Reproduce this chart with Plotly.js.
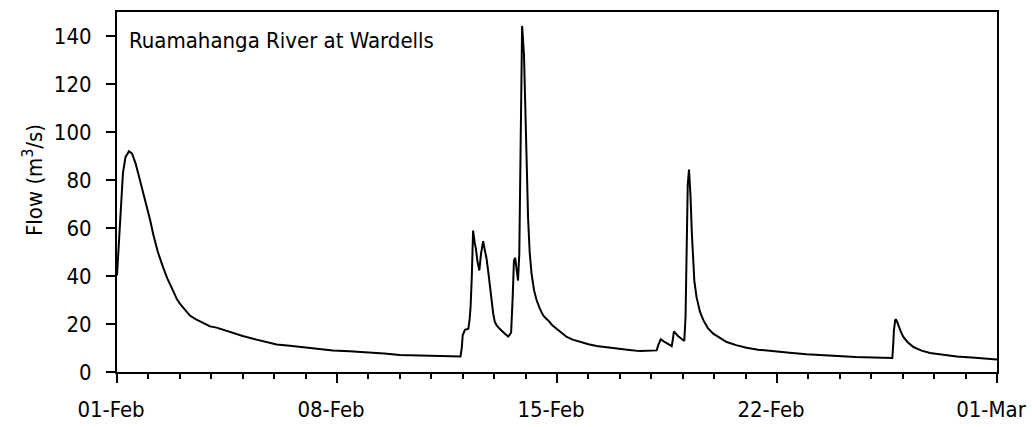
<!DOCTYPE html>
<html>
<head>
<meta charset="utf-8">
<script src="https://cdn.plot.ly/plotly-3.0.1.min.js"></script>
<style>html,body{margin:0;padding:0;background:#fff;}#chart{width:1032px;height:427px;}</style>
</head>
<body>
<div id="chart"></div>
<script>
// Days elapsed since 01-Feb 00:00
const daysSinceFeb1 = [
  0.00, 0.06, 0.12, 0.19, 0.27, 0.38, 0.48, 0.60, 0.70, 0.79, 0.95, 1.05, 1.16, 1.30, 1.47, 1.60, 1.78, 1.90, 2.00, 2.15,
  2.32, 2.50, 2.64, 2.80, 2.96, 3.17, 3.40, 3.60, 4.00, 4.44, 4.75, 5.08, 5.50, 6.04, 6.50, 6.87, 7.40, 7.94,
  8.50, 9.00, 9.50, 10.00, 10.50, 10.93,
  10.97, 11.00, 11.07, 11.18, 11.22, 11.25, 11.29, 11.33, 11.38, 11.42, 11.47, 11.53, 11.58, 11.65, 11.70,
  11.76, 11.82, 11.87, 11.92, 11.97, 12.02, 12.08, 12.16, 12.24, 12.35, 12.45, 12.54, 12.59, 12.63, 12.67,
  12.76, 12.80, 12.84, 12.89, 12.95, 13.01, 13.05, 13.08, 13.13, 13.19, 13.27, 13.35, 13.45, 13.56, 13.65,
  13.72, 13.85, 13.99, 14.15, 14.31, 14.50, 14.73, 15.00, 15.26, 15.60, 16.00, 16.30, 16.64, 17.00, 17.17,
  17.22, 17.30, 17.45, 17.65, 17.68, 17.72, 17.85, 18.05, 18.09, 18.12, 18.16, 18.20, 18.25, 18.29, 18.32,
  18.37, 18.44, 18.55, 18.66, 18.80, 18.97, 19.20, 19.40, 19.70, 20.03, 20.40, 20.88, 21.40, 21.94, 22.50,
  23.00, 23.50, 24.06, 24.67, 24.70, 24.72, 24.76, 24.78, 24.82, 24.86, 24.94, 25.02, 25.15, 25.34, 25.60,
  25.87, 26.30, 26.72, 27.30, 28.00
];
// Flow in m3/s
const flow = [
  40.2, 55.0, 70.0, 83.0, 89.5, 92.0, 91.0, 86.5, 81.5, 77.0, 69.5, 63.5, 57.0, 50.0, 43.5, 39.0, 34.0, 30.5, 28.5, 26.0,
  23.5, 22.0, 21.0, 20.0, 19.0, 18.5, 17.5, 16.6, 15.0, 13.5, 12.4, 11.5, 10.9, 10.1, 9.5, 9.0, 8.6, 8.3,
  7.7, 7.1, 6.9, 6.7, 6.6, 6.5,
  10.0, 15.3, 17.6, 18.0, 22.0, 27.0, 40.0, 58.9, 54.0, 51.3, 46.0, 42.3, 49.0, 54.5, 51.0,
  47.1, 41.0, 35.3, 29.0, 24.3, 21.0, 19.4, 18.2, 17.1, 15.8, 14.8, 16.4, 31.2, 46.4, 47.6,
  38.1, 49.2, 95.0, 144.2, 132.0, 99.0, 78.0, 64.0, 50.0, 41.0, 34.0, 30.0, 26.5, 23.6, 22.3,
  21.5, 19.5, 18.0, 16.2, 14.6, 13.5, 12.5, 11.6, 10.8, 10.2, 9.7, 9.2, 8.7, 8.8, 9.0,
  11.1, 13.6, 12.3, 10.8, 13.0, 16.9, 15.0, 12.9, 22.9, 58.9, 78.0, 84.3, 72.8, 58.0, 47.8,
  38.0, 31.2, 25.0, 21.5, 18.3, 16.0, 14.0, 12.5, 11.2, 10.1, 9.3, 8.6, 8.0, 7.4, 6.9,
  6.5, 6.2, 6.0, 5.8, 12.0, 17.3, 21.5, 22.0, 21.0, 19.4, 16.8, 14.6, 12.5, 10.4, 8.9,
  7.9, 7.1, 6.5, 5.9, 5.2
];
const yTicks = [0, 20, 40, 60, 80, 100, 120, 140];
const xTickDays = [0, 7, 14, 21, 28];
const xTickLabels = ['01-Feb', '08-Feb', '15-Feb', '22-Feb', '01-Mar'];
const siteName = "Ruamahanga River at Wardells";
const yTitle = 'Flow (m<sup>3</sup>/s)';

const startMs = Date.UTC(2013, 1, 1);
function toIso(d) {
  const t = new Date(startMs + d * 86400000);
  return t.toISOString().slice(0, 19).replace('T', ' ');
}
const times = daysSinceFeb1.map(toIso);

const FONT = "DejaVu Sans Condensed, DejaVu Sans, sans-serif";

const trace = {
  x: times, y: flow, type: 'scatter', mode: 'lines',
  line: {color: '#000', width: 2},
  hoverinfo: 'x+y'
};

const layout = {
  width: 1032, height: 427,
  margin: {l: 117, r: 35, t: 12, b: 55},
  paper_bgcolor: '#fff', plot_bgcolor: '#fff',
  showlegend: false,
  font: {family: FONT, size: 23, color: '#000'},
  xaxis: {
    type: 'date',
    range: [toIso(0), toIso(28)],
    tickvals: xTickDays.map(toIso), ticktext: xTickLabels,
    ticklabeloverflow: 'allow',
    ticklabelshift: -6,
    ticks: 'outside', ticklen: 9, tickwidth: 2, tickcolor: '#000',
    minor: {dtick: 86400000, tick0: toIso(0), ticks: 'outside', ticklen: 5, tickwidth: 2, tickcolor: '#000', showgrid: false},
    showline: true, linecolor: '#000', linewidth: 2, mirror: true,
    showgrid: false, zeroline: false,
    tickfont: {family: FONT, size: 22, color: '#000'},
    ticklabelstandoff: 8
  },
  yaxis: {
    range: [0, 150],
    tickvals: yTicks,
    ticks: 'outside', ticklen: 9, tickwidth: 2, tickcolor: '#000',
    showline: true, linecolor: '#000', linewidth: 2, mirror: true,
    showgrid: false, zeroline: false,
    tickfont: {family: FONT, size: 22, color: '#000'},
    ticklabelstandoff: 10
  },
  annotations: [{
    text: siteName, xref: 'paper', yref: 'paper',
    x: 0.0115, y: 0.922, xanchor: 'left', yanchor: 'middle',
    showarrow: false, font: {family: FONT, size: 22, color: '#000'}
  }, {
    text: yTitle, xref: 'paper', yref: 'paper',
    x: -0.0955, y: 0.533, xanchor: 'center', yanchor: 'middle', textangle: -90,
    showarrow: false, font: {family: FONT, size: 22, color: '#000'}
  }]
};

Plotly.newPlot('chart', [trace], layout, {staticPlot: true, displayModeBar: false});
</script>
</body>
</html>
